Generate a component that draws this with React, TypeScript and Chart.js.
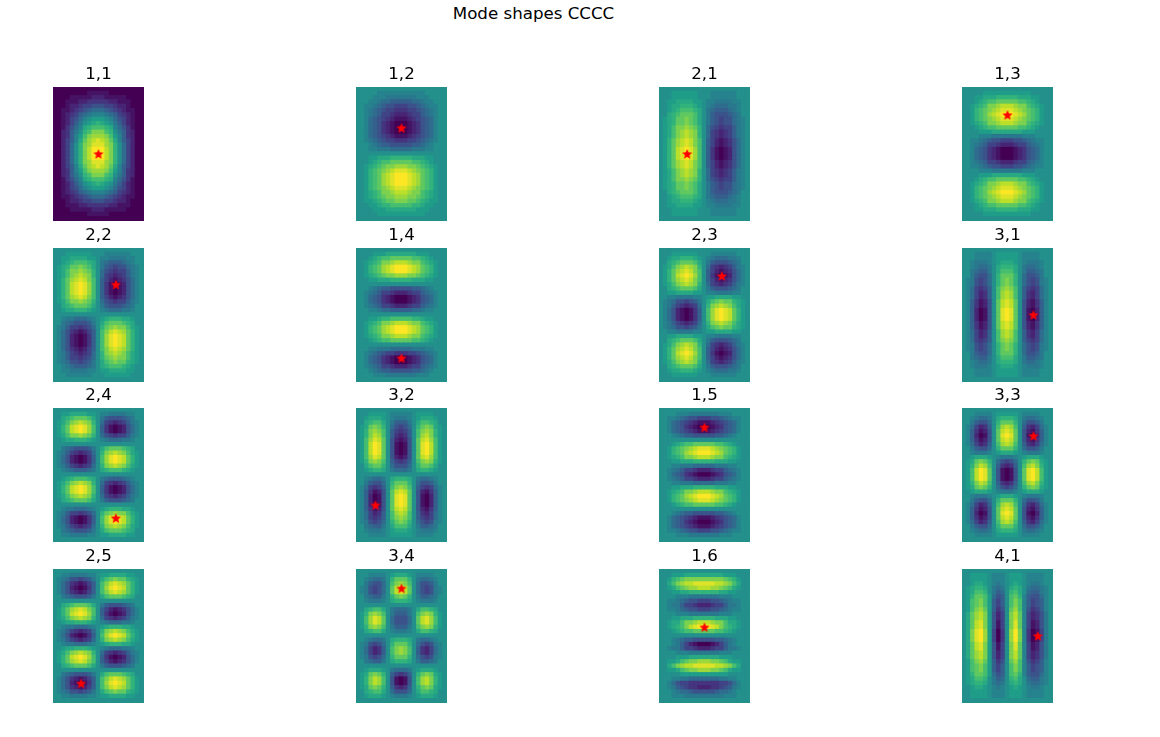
import React, { useEffect, useRef } from "react";
import { Chart, registerables } from "chart.js";

Chart.register(...registerables);

// Cell levels. "." = 0, A..J = +1..+10, a..j = -1..-10.
const mode11 = [
"jjjjjjjjjjjjjjjjjjjjj","jjjjjjjjiiiiijjjjjjjj","jjjjiiiiihhhiiiiijjjj","jjjiiihhgggggghhiiijjj".slice(0,10)+"ggghhiiijjj","jjjihhgffeeeffghhijjj","jjiihgfedcccdefghiijj","jjihgfdcbaaabcdfghijj","jjihfeca.AAA.acefhijj","jjihfdb.ABCBA.bdfhijj","jjigecaBCDDDCBacegijj","jjhgdb.CDFFFDC.bdghjj","jjhgdaADFGGGFDAadghjj","jjhfdaBEGHIHGEBadfhjj","jjhfc.CFGIIIGFC.cfhjj","jjhfc.CFHJJJHFC.cfhjj","jjhfc.CFHJJJHFC.cfhjj","jjhfc.CFHJJJHFC.cfhjj","jjhfc.CFGIIIGFC.cfhjj","jjhfdaBEGHIHGEBadfhjj","jjhgdaADFGGGFDAadghjj","jjhgdb.CDFFFDC.bdghjj","jjigecaBCDDDCBacegijj","jjihfdb.ABCBA.bdfhijj","jjihfeca.AAA.acefhijj","jjihgfdcbaaabcdfghijj","jjiihgfedcccdefghiijj","jjjihhgffeeeffghhijjj","jjjiiihhggggghhiiijjj","jjjjiiiiihhhiiiiijjjj","jjjjjjjjiiiiijjjjjjjj","jjjjjjjjjjjjjjjjjjjjj",
];
const mode12 = [
".....................",".....aaaaaaaaaaa.....","....aaabbbbbbbaaa....","...aabccdddddccbaa...","..aabcdeefffeedcbaa..","..abcdeffgggffedcba..","..abcdffghhhgffdcba..","..acdefghiiihgfedca..","..acdeghijjjihgedca..","..acdeghijjjihgedca..","..acdeghijjjihgedca..","..acdefghiiihgfedca..","..abcdeffgggffedcba..","...abcddeeeeeddcba...","...aabbbcccccbbbaa...",".....................","...AABBBCCCCCBBBAA...","...ABCDDEEEEEDDCBA...","..ABCDEFFGGGFFEDCBA..","..ACDEFGHIIIHGFEDCA..","..ACDEGHIJJJIHGEDCA..","..ACDEGHIJJJIHGEDCA..","..ACDEGHIJJJIHGEDCA..","..ACDEFGHIIIHGFEDCA..","..ABCDFFGHHHGFFDCBA..","..ABCDEFFGGGFFEDCBA..","..AABCDEEFFFEEDCBAA..","...AABCCDDDDDCCBAA...","....AAABBBBBBBAAA....",".....AAAAAAAAAAA.....",".....................",
];
const mode21 = [
".....................","...AAAAAA...aaaaaa...","...AAAAAA...aaaaaa...","..AABBBBAA.aabbbbaa..","..ABBCCCBA.abcccbba..","..ABCDDDCB.bcdddcba..","..BCDEEEDB.bdeeedcb..",".ABCEEFEDB.bdefeecba.",".ABCEEFEDB.bdefeecba.",".ABDFFGFEC.cefgffdba.",".ABDFGHGFC.cfghgfdba.",".ABDFGHGFC.cfghgfdba.",".ACEGHIHFD.dfhihgeca.",".ACEGHIHFD.dfhihgeca.",".ACEHIJIGD.dgijiheca.",".ACEHIJIGD.dgijiheca.",".ACEHIJIGD.dgijiheca.",".ACEGHIHFD.dfhihgeca.",".ACEGHIHFD.dfhihgeca.",".ABDFGHGFC.cfghgfdba.",".ABDFGHGFC.cfghgfdba.",".ABDFFGFEC.cefgffdba.",".ABCEEFEDB.bdefeecba.",".ABCEEFEDB.bdefeecba.","..BCDEEEDB.bdeeedcb..","..ABCDDDCB.bcdddcba..","..ABBCCCBA.abcccbba..","..AABBBBAA.aabbbbaa..","...AAAAAA...aaaaaa...","...AAAAAA...aaaaaa...",".....................",
];
const mode13 = [
".....................",".....AAAAAAAAAAA.....","...AABBBCCCCCBBBAA...","...ABCDDEEEEEDDCBA...","..ABCDFFGHHHGFFDCBA..","..ACDEFGHIIIHGFEDCA..","..ACDEGHIJJJIHGEDCA..","..ACDEFGHIIIHGFEDCA..","..ABCDFFGHHHGFFDCBA..","...ABCDDEEEEEDDCBA...","....AAABBBBBBBAAA....","....aaabbbbbbbaaa....","..aabcdeefffeedcbaa..","..abcdffghhhgffdcba..","..acdeghijjjihgedca..","..acdeghijjjihgedca..","..acdeghijjjihgedca..","..abcdffghhhgffdcba..","..aabcdeefffeedcbaa..","....aaabbbbbbbaaa....","....AAABBBBBBBAAA....","...ABCDDEEEEEDDCBA...","..ABCDFFGHHHGFFDCBA..","..ACDEFGHIIIHGFEDCA..","..ACDEGHIJJJIHGEDCA..","..ACDEFGHIIIHGFEDCA..","..ABCDFFGHHHGFFDCBA..","...ABCDDEEEEEDDCBA...","...AABBBCCCCCBBBAA...",".....AAAAAAAAAAA.....",".....................",
];
const mode22 = [
".....................","...AAAAAA...aaaaaa...","..AABBBBAA.aabbbbaa..","..ABCDDDCB.bcdddcba..",".ABCEEFEDB.bdefeecba.",".ABDFFGFEC.cefgffdba.",".ABDFGHGFC.cfghgfdba.",".ACEGHIHFD.dfhihgeca.",".ACEHIJIGD.dgijiheca.",".ACEHIJIGD.dgijiheca.",".ACEHIJIGD.dgijiheca.",".ACEGHIHFD.dfhihgeca.",".ABDFFGFEC.cefgffdba.","..BCDEEEDB.bdeeedcb..","..ABBCCCBA.abcccbba..",".....................","..abbcccba.ABCCCBBA..","..bcdeeedb.BDEEEDCB..",".abdffgfec.CEFGFFDBA.",".aceghihfd.DFHIHGECA.",".acehijigd.DGIJIHECA.",".acehijigd.DGIJIHECA.",".acehijigd.DGIJIHECA.",".aceghihfd.DFHIHGECA.",".abdfghgfc.CFGHGFDBA.",".abdffgfec.CEFGFFDBA.",".abceefedb.BDEFEECBA.","..abcdddcb.BCDDDCBA..","..aabbbbaa.AABBBBAA..","...aaaaaa...AAAAAA...",".....................",
];
const mode14 = [
".....................","....AAABBBBBBBAAA....","...ABCDDEEEEEDDCBA...","..ABCDFFGHHHGFFDCBA..","..ACDEGHIJJJIHGEDCA..","..ACDEGHIJJJIHGEDCA..","..ABCDEFFGGGFFEDCBA..","...AABBBCCCCCBBBAA...",".....................","...abcddeeeeeddcba...","..abcdffghhhgffdcba..","..acdeghijjjihgedca..","..acdeghijjjihgedca..","..abcdffghhhgffdcba..","...aabccdddddccbaa...",".....................","...AABCCDDDDDCCBAA...","..ABCDFFGHHHGFFDCBA..","..ACDEGHIJJJIHGEDCA..","..ACDEGHIJJJIHGEDCA..","..ABCDFFGHHHGFFDCBA..","...ABCDDEEEEEDDCBA...",".....................","...aabbbcccccbbbaa...","..abcdeffgggffedcba..","..acdeghijjjihgedca..","..acdeghijjjihgedca..","..abcdffghhhgffdcba..","...abcddeeeeeddcba...","....aaabbbbbbbaaa....",".....................",
];
const mode23 = [
".....................","...AAAAAA...aaaaaa...","..ABBCCCBA.abcccbba..","..BCDEEEDB.bdeeedcb..",".ABDFGHGFC.cfghgfdba.",".ACEGHIHFD.dfhihgeca.",".ACEHIJIGD.dgijiheca.",".ACEGHIHFD.dfhihgeca.",".ABDFGHGFC.cfghgfdba.","..BCDEEEDB.bdeeedcb..","..AABBBBAA.aabbbbaa..","..aabbbbaa.AABBBBAA..",".abceefedb.BDEFEECBA.",".abdfghgfc.CFGHGFDBA.",".acehijigd.DGIJIHECA.",".acehijigd.DGIJIHECA.",".acehijigd.DGIJIHECA.",".abdfghgfc.CFGHGFDBA.",".abceefedb.BDEFEECBA.","..aabbbbaa.AABBBBAA..","..AABBBBAA.aabbbbaa..","..BCDEEEDB.bdeeedcb..",".ABDFGHGFC.cfghgfdba.",".ACEGHIHFD.dfhihgeca.",".ACEHIJIGD.dgijiheca.",".ACEGHIHFD.dfhihgeca.",".ABDFGHGFC.cfghgfdba.","..BCDEEEDB.bdeeedcb..","..ABBCCCBA.abcccbba..","...AAAAAA...aaaaaa...",".....................",
];
const mode31 = [
".....................","...aaaa.AAAAA.aaaa...","...aaaa.AAAAA.aaaa...","..abbba.ABBBA.abbba..","..abccb.BCCCB.bccba..","..bcddb.BDDDB.bddcb..","..bdeec.CEEEC.ceedb..",".abefec.CEFEC.cefeba.",".abefec.CEFEC.cefeba.",".acfgfd.DFGFD.dfgfca.",".acfhgd.DGHGD.dghfca.",".acfhgd.DGHGD.dghfca.",".adgihe.EHIHE.ehigda.",".adgihe.EHIHE.ehigda.",".adhjie.EIJIE.eijhda.",".adhjie.EIJIE.eijhda.",".adhjie.EIJIE.eijhda.",".adgihe.EHIHE.ehigda.",".adgihe.EHIHE.ehigda.",".acfhgd.DGHGD.dghfca.",".acfhgd.DGHGD.dghfca.",".acfgfd.DFGFD.dfgfca.",".abefec.CEFEC.cefeba.",".abefec.CEFEC.cefeba.","..bdeec.CEEEC.ceedb..","..bcddb.BDDDB.bddcb..","..abccb.BCCCB.bccba..","..abbba.ABBBA.abbba..","...aaaa.AAAAA.aaaa...","...aaaa.AAAAA.aaaa...",".....................",
];
const mode24 = [
".....................","..AABBBBAA.aabbbbaa..","..BCDEEEDB.bdeeedcb..",".ABDFGHGFC.cfghgfdba.",".ACEHIJIGD.dgijiheca.",".ACEHIJIGD.dgijiheca.",".ABDFFGFEC.cefgffdba.","..ABBCCCBA.abcccbba..",".....................","..bcdeeedb.BDEEEDCB..",".abdfghgfc.CFGHGFDBA.",".acehijigd.DGIJIHECA.",".acehijigd.DGIJIHECA.",".abdfghgfc.CFGHGFDBA.","..abcdddcb.BCDDDCBA..",".....................","..ABCDDDCB.bcdddcba..",".ABDFGHGFC.cfghgfdba.",".ACEHIJIGD.dgijiheca.",".ACEHIJIGD.dgijiheca.",".ABDFGHGFC.cfghgfdba.","..BCDEEEDB.bdeeedcb..",".....................","..abbcccba.ABCCCBBA..",".abdffgfec.CEFGFFDBA.",".acehijigd.DGIJIHECA.",".acehijigd.DGIJIHECA.",".abdfghgfc.CFGHGFDBA.","..bcdeeedb.BDEEEDCB..","..aabbbbaa.AABBBBAA..",".....................",
];
const mode32 = [
".....................","...AAAA.aaaaa.AAAA...","..ABBBA.abbba.ABBBA..","..BCDDB.bdddb.BDDCB..",".ABEFEC.cefec.CEFEBA.",".ACFGFD.dfgfd.DFGFCA.",".ACFHGD.dghgd.DGHFCA.",".ADGIHE.ehihe.EHIGDA.",".ADHJIE.eijie.EIJHDA.",".ADHJIE.eijie.EIJHDA.",".ADHJIE.eijie.EIJHDA.",".ADGIHE.ehihe.EHIGDA.",".ACFGFD.dfgfd.DFGFCA.","..BDEEC.ceeec.CEEDB..","..ABCCB.bcccb.BCCBA..",".....................","..abccb.BCCCB.bccba..","..bdeec.CEEEC.ceedb..",".acfgfd.DFGFD.dfgfca.",".adgihe.EHIHE.ehigda.",".adhjie.EIJIE.eijhda.",".adhjie.EIJIE.eijhda.",".adhjie.EIJIE.eijhda.",".adgihe.EHIHE.ehigda.",".acfhgd.DGHGD.dghfca.",".acfgfd.DFGFD.dfgfca.",".abefec.CEFEC.cefeba.","..bcddb.BDDDB.bddcb..","..abbba.ABBBA.abbba..","...aaaa.AAAAA.aaaa...",".....................",
];
const mode15 = [
".....................","....aaabbbbbbbaaa....","..aabcdeefffeedcbaa..","..acdefghiiihgfedca..","..acdeghijjjihgedca..","..acdefghiiihgfedca..","...abcddeeeeeddcba...",".....................","...ABCDDEEEEEDDCBA...","..ACDEFGHIIIHGFEDCA..","..ACDEGHIJJJIHGEDCA..","..ABCDFFGHHHGFFDCBA..","...AABBBCCCCCBBBAA...","...aabbbcccccbbbaa...","..abcdffghhhgffdcba..","..acdeghijjjihgedca..","..abcdffghhhgffdcba..","...aabbbcccccbbbaa...","...AABBBCCCCCBBBAA...","..ABCDFFGHHHGFFDCBA..","..ACDEGHIJJJIHGEDCA..","..ACDEFGHIIIHGFEDCA..","...ABCDDEEEEEDDCBA...",".....................","...abcddeeeeeddcba...","..acdefghiiihgfedca..","..acdeghijjjihgedca..","..acdefghiiihgfedca..","..aabcdeefffeedcbaa..","....aaabbbbbbbaaa....",".....................",
];
const mode33 = [
".....................","...aaaa.AAAAA.aaaa...","..abccb.BCCCB.bccba..","..bdeec.CEEEC.ceedb..",".acfhgd.DGHGD.dghfca.",".adgihe.EHIHE.ehigda.",".adhjie.EIJIE.eijhda.",".adgihe.EHIHE.ehigda.",".acfhgd.DGHGD.dghfca.","..bdeec.CEEEC.ceedb..","..abbba.ABBBA.abbba..","..ABBBA.abbba.ABBBA..",".ABEFEC.cefec.CEFEBA.",".ACFHGD.dghgd.DGHFCA.",".ADHJIE.eijie.EIJHDA.",".ADHJIE.eijie.EIJHDA.",".ADHJIE.eijie.EIJHDA.",".ACFHGD.dghgd.DGHFCA.",".ABEFEC.cefec.CEFEBA.","..ABBBA.abbba.ABBBA..","..abbba.ABBBA.abbba..","..bdeec.CEEEC.ceedb..",".acfhgd.DGHGD.dghfca.",".adgihe.EHIHE.ehigda.",".adhjie.EIJIE.eijhda.",".adgihe.EHIHE.ehigda.",".acfhgd.DGHGD.dghfca.","..bdeec.CEEEC.ceedb..","..abccb.BCCCB.bccba..","...aaaa.AAAAA.aaaa...",".....................",
];
const mode25 = [
".....................","..aabbbbaa.AABBBBAA..",".abceefedb.BDEFEECBA.",".aceghihfd.DFHIHGECA.",".acehijigd.DGIJIHECA.",".aceghihfd.DFHIHGECA.","..bcdeeedb.BDEEEDCB..",".....................","..BCDEEEDB.bdeeedcb..",".ACEGHIHFD.dfhihgeca.",".ACEHIJIGD.dgijiheca.",".ABDFGHGFC.cfghgfdba.","..ABBCCCBA.abcccbba..","..abbcccba.ABCCCBBA..",".abdfghgfc.CFGHGFDBA.",".acehijigd.DGIJIHECA.",".abdfghgfc.CFGHGFDBA.","..abbcccba.ABCCCBBA..","..ABBCCCBA.abcccbba..",".ABDFGHGFC.cfghgfdba.",".ACEHIJIGD.dgijiheca.",".ACEGHIHFD.dfhihgeca.","..BCDEEEDB.bdeeedcb..",".....................","..bcdeeedb.BDEEEDCB..",".aceghihfd.DFHIHGECA.",".acehijigd.DGIJIHECA.",".aceghihfd.DFHIHGECA.",".abceefedb.BDEFEECBA.","..aabbbbaa.AABBBBAA..",".....................",
];
const mode34 = [
".....................","...aaaa.ABBBA.aaaa...","..abccb.CEEEC.bccba..","..bdeec.DFGFD.ceedb..",".abefec.EHIHE.cefeba.",".abefec.EHIHE.cefeba.","..bcddb.CEFEC.bddcb..","..abbba.BCCCB.abbba..",".....................","..BCDDB.bcccb.BDDCB..",".ACFGFD.bdddb.DFGFCA.",".ADGIHE.ceeec.EHIGDA.",".ADGIHE.ceeec.EHIGDA.",".ACFGFD.bdddb.DFGFCA.","..BCDDB.abbba.BDDCB..",".....................","..abccb.BCCCB.bccba..",".abefec.CEEEC.cefeba.",".acfhgd.DFGFD.dghfca.",".acfhgd.DFGFD.dghfca.",".abefec.CEEEC.cefeba.","..bcddb.BCCCB.bddcb..",".....................","..ABBBA.bcccb.ABBBA..",".ABEFEC.dfgfd.CEFEBA.",".ACFHGD.eijie.DGHFCA.",".ACFHGD.eijie.DGHFCA.",".ABEFEC.dghgd.CEFEBA.","..BCDDB.ceeec.BDDCB..","..ABBBA.abbba.ABBBA..",".....................",
];
const mode16 = [
".....................","...AAABBBBBBBBBAAA...","..ACDEFFFFFFFFFEDCA..","..BDFGHHIIIIIHHGFDB..","..ABDEFGGHHHGGFEDBA..","...AABBCCCCCCCBBAA...","....aaabbbbbbbaaa....","..aabcdeefffeedcbaa..","..abbdffghhhgffdbba..","..aabcdeefffeedcbaa..","....aaabbbbbbbaaa....","...AABBBCCCCCBBBAA...","..ABBDFFGHHHGFFDBBA..","..ABCDFHIJJJIHFDCBA..","...ABCDDEEEEEDDCBA...",".....................","...abcddeeeeeddcba...","...abdfhijjjihfdba...","..abbdffghhhgffdbba..","....aaabbbbbbbaaa....","....AAABBBBBBBAAA....","..AABDEFFGGGFFEDBAA..","..BDFGHHIIIIIHHGFDB..","..AABDEFFGGGFFEDBAA..",".....AAAAAAAAAAA.....","...aabbcccccccbbaa...","..aceffgggggggffeca..","..abdefgghhhggfedba..","...abccdeeeeedccba...","...aaabbbbbbbbbaaa...",".....................",
];
const mode41 = [
".....................","..AAAA.aaa.AAA.aaaa..","..AAAA.aaa.AAA.aaaa..","..ABBA.aba.ABA.abba..",".ABCCB.bcb.BCB.bccba.",".ABDDC.bdc.CDB.cddba.",".ACEEDAced.DECadeeca.",".ADEFDAdfd.DFDadfeda.",".ADEFDAdfd.DFDadfeda.",".ADFGEAdge.EGDaegfda.",".BEGHFAehf.FHEafhgeb.",".BEGHFAehf.FHEafhgeb.",".BEHIFAeif.FIEafiheb.",".BEHIFAeif.FIEafiheb.",".BFIJGAfjg.GJFagjifb.",".BFIJGAfjg.GJFagjifb.",".BFIJGAfjg.GJFagjifb.",".BEHIFAeif.FIEafiheb.",".BEHIFAeif.FIEafiheb.",".BEGHFAehf.FHEafhgeb.",".BEGHFAehf.FHEafhgeb.",".ADFGEAdge.EGDaegfda.",".ADEFDAdfd.DFDadfeda.",".ADEFDAdfd.DFDadfeda.",".ACEEDAced.DECadeeca.",".ABDDC.bdc.CDB.cddba.",".ABCCB.bcb.BCB.bccba.","..ABBA.aba.ABA.abba..","..AAAA.aaa.AAA.aaaa..","..AAAA.aaa.AAA.aaaa..",".....................",
];

const titles = ["1,1","1,2","2,1","1,3","2,2","1,4","2,3","3,1","2,4","3,2","1,5","3,3","2,5","3,4","1,6","4,1"];
const grids = [mode11,mode12,mode21,mode13,mode22,mode14,mode23,mode31,mode24,mode32,mode15,mode33,mode25,mode34,mode16,mode41];
const starCols = [10,10,6,10,14,10,14,16,14,4,10,16,6,10,10,17];
const starRows = [15,9,15,6,8,25,6,15,25,22,4,6,26,4,13,15];
const figureTitle = "Mode shapes CCCC";

const COLS = 21, ROWS = 31;
const PANEL_LEFT = [53, 356, 659, 962];
const PANEL_TOP = [87, 248, 408, 569];
const PANEL_W = 91, PANEL_H = 134, TITLE_H = 30;
const FONT = "'DejaVu Sans', sans-serif";
const VIRIDIS = [[68,1,84],[72,40,120],[62,74,137],[49,104,142],[38,130,142],[31,158,137],[53,183,121],[110,206,88],[181,222,43],[253,231,37]];

function levelOf(c: string): number {
  if (c === ".") return 0;
  const u = c.charCodeAt(0);
  return u >= 97 ? -(u - 96) : u - 64;
}
function colorOf(level: number): string {
  const t = ((level + 10) / 20) * (VIRIDIS.length - 1);
  const k = Math.min(Math.floor(t), VIRIDIS.length - 2);
  const f = t - k;
  const c = [0, 1, 2].map((n) => Math.round(VIRIDIS[k][n] + (VIRIDIS[k + 1][n] - VIRIDIS[k][n]) * f));
  return `rgb(${c[0]},${c[1]},${c[2]})`;
}
function starImage(): HTMLCanvasElement {
  const cv = document.createElement("canvas");
  cv.width = 12; cv.height = 12;
  const g = cv.getContext("2d")!;
  g.fillStyle = "#ff0000";
  g.beginPath();
  for (let i = 0; i < 10; i++) {
    const r = i % 2 === 0 ? 5.4 : 2.4;
    const a = -Math.PI / 2 + (i * Math.PI) / 5;
    const x = 6 + r * Math.cos(a), y = 6.3 + r * Math.sin(a);
    if (i === 0) g.moveTo(x, y); else g.lineTo(x, y);
  }
  g.closePath();
  g.fill();
  return cv;
}

function Panel({ index }: { index: number }) {
  const ref = useRef<HTMLCanvasElement>(null);
  useEffect(() => {
    const grid = grids[index];
    const pts: { x: number; y: number }[] = [];
    const colors: string[] = [];
    grid.forEach((row, j) => {
      for (let i = 0; i < COLS; i++) {
        pts.push({ x: i, y: j });
        colors.push(colorOf(levelOf(row[i] ?? ".")));
      }
    });
    const chart = new Chart(ref.current!, {
      type: "scatter",
      data: {
        datasets: [
          {
            data: [{ x: starCols[index], y: starRows[index] }],
            pointStyle: starImage() as any,
            pointRadius: 6,
            order: 0,
            clip: false as any,
          },
          {
            data: pts,
            pointStyle: "rect",
            pointRadius: 3.9,
            pointBorderWidth: 0,
            pointBackgroundColor: colors,
            order: 1,
            clip: 0 as any,
          },
        ],
      },
      options: {
        animation: false,
        responsive: false,
        events: [],
        layout: { padding: 0, autoPadding: false },
        plugins: {
          legend: { display: false },
          tooltip: { enabled: false },
          title: {
            display: true,
            text: titles[index],
            color: "#000000",
            font: { family: FONT, size: 16.67, weight: "normal", lineHeight: 1.2 },
            padding: { top: 8, bottom: 2 },
          },
        },
        scales: {
          x: { type: "linear", display: false, min: -0.5, max: COLS - 0.5 },
          y: { type: "linear", display: false, min: -0.5, max: ROWS - 0.5, reverse: true },
        },
      },
    });
    return () => chart.destroy();
  }, [index]);
  const col = index % 4, row = Math.floor(index / 4);
  return (
    <canvas
      ref={ref}
      width={PANEL_W}
      height={PANEL_H + TITLE_H}
      style={{ position: "absolute", left: PANEL_LEFT[col], top: PANEL_TOP[row] - TITLE_H, width: PANEL_W, height: PANEL_H + TITLE_H }}
    />
  );
}

export default function App() {
  return (
    <div style={{ position: "absolute", left: 0, top: 0, width: 1160, height: 737, background: "#fff", overflow: "hidden" }}>
      <div style={{ position: "absolute", left: 333.5, width: 400, top: 4, textAlign: "center", font: `16.67px ${FONT}`, color: "#000" }}>
        {figureTitle}
      </div>
      {titles.map((_, i) => <Panel key={i} index={i} />)}
    </div>
  );
}
